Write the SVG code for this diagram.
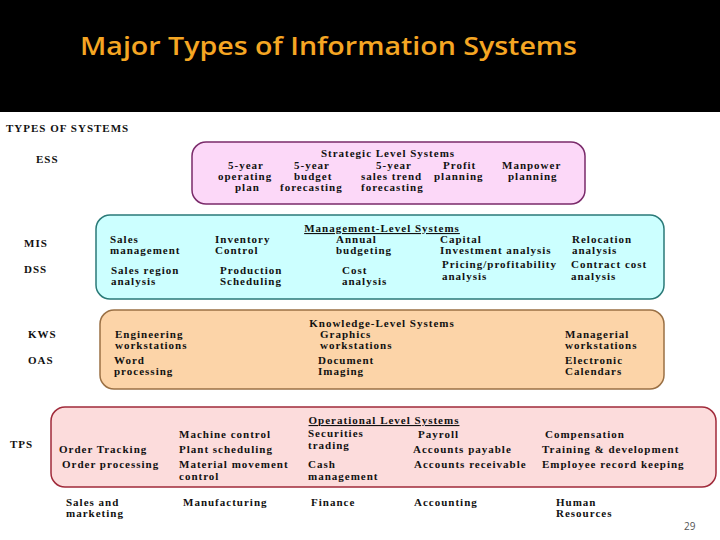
<svg xmlns="http://www.w3.org/2000/svg" width="720" height="540" viewBox="0 0 720 540">
<style>
.t{font-family:"Liberation Serif",serif;font-weight:bold;font-size:11px;fill:#111;letter-spacing:1px}
.h{font-family:"Liberation Serif",serif;font-weight:bold;font-size:11px;fill:#111;letter-spacing:1px;text-anchor:middle}
.u{text-decoration:underline}
</style>
<rect x="0" y="0" width="720" height="112" fill="#000"/>
<text x="80" y="55" font-family="'Open Sans',Lato,sans-serif" font-weight="600" font-size="26" fill="#f5a623" textLength="497" lengthAdjust="spacingAndGlyphs">Major Types of Information Systems</text>
<text x="6" y="132" class="t" font-size="10">TYPES OF SYSTEMS</text>
<g id="labels">
<text x="36" y="163" class="t">ESS</text>
<text x="24" y="247" class="t">MIS</text>
<text x="24" y="273" class="t">DSS</text>
<text x="28" y="338" class="t">KWS</text>
<text x="28" y="364" class="t">OAS</text>
<text x="10" y="448" class="t">TPS</text>
</g>
<g id="ess">
<rect x="192" y="142" width="393" height="62" rx="14" fill="#fcd8f8" stroke="#7a2a6a" stroke-width="1.5"/>
<text x="388" y="157" class="h">Strategic Level Systems</text>
<text x="228" y="169" class="t">5-year</text><text x="218" y="180" class="t">operating</text><text x="235" y="191" class="t">plan</text>
<text x="294" y="169" class="t">5-year</text><text x="294" y="180" class="t">budget</text><text x="280" y="191" class="t">forecasting</text>
<text x="376" y="169" class="t">5-year</text><text x="361" y="180" class="t">sales trend</text><text x="361" y="191" class="t">forecasting</text>
<text x="443" y="169" class="t">Profit</text><text x="434" y="180" class="t">planning</text>
<text x="502" y="169" class="t">Manpower</text><text x="508" y="180" class="t">planning</text>
</g>
<g id="mis">
<rect x="96" y="215" width="568" height="84" rx="14" fill="#ccffff" stroke="#2a7a78" stroke-width="1.5"/>
<text x="382" y="232" class="h u">Management-Level Systems</text>
<text x="110" y="243" class="t">Sales</text><text x="110" y="254" class="t">management</text>
<text x="215" y="243" class="t">Inventory</text><text x="215" y="254" class="t">Control</text>
<text x="336" y="243" class="t">Annual</text><text x="336" y="254" class="t">budgeting</text>
<text x="440" y="243" class="t">Capital</text><text x="440" y="254" class="t" letter-spacing="0.6">Investment analysis</text>
<text x="572" y="243" class="t">Relocation</text><text x="572" y="254" class="t">analysis</text>
<text x="111" y="274" class="t">Sales region</text><text x="111" y="285" class="t">analysis</text>
<text x="220" y="274" class="t">Production</text><text x="220" y="285" class="t">Scheduling</text>
<text x="342" y="274" class="t">Cost</text><text x="342" y="285" class="t">analysis</text>
<text x="442" y="268" class="t" letter-spacing="0.3">Pricing/profitability</text><text x="442" y="280" class="t">analysis</text>
<text x="571" y="268" class="t" letter-spacing="0.6">Contract cost</text><text x="571" y="280" class="t">analysis</text>
</g>
<g id="kws">
<rect x="100" y="310" width="564" height="79" rx="14" fill="#fcd4a8" stroke="#9a7044" stroke-width="1.5"/>
<text x="382" y="327" class="h">Knowledge-Level Systems</text>
<text x="115" y="338" class="t">Engineering</text><text x="115" y="349" class="t">workstations</text>
<text x="320" y="338" class="t">Graphics</text><text x="320" y="349" class="t">workstations</text>
<text x="565" y="338" class="t">Managerial</text><text x="565" y="349" class="t">workstations</text>
<text x="114" y="364" class="t">Word</text><text x="114" y="375" class="t">processing</text>
<text x="318" y="364" class="t">Document</text><text x="318" y="375" class="t">Imaging</text>
<text x="565" y="364" class="t">Electronic</text><text x="565" y="375" class="t">Calendars</text>
</g>
<g id="tps">
<rect x="51" y="407" width="665" height="80" rx="14" fill="#fcdcdc" stroke="#a02a3a" stroke-width="1.5"/>
<text x="384" y="424" class="h u">Operational Level Systems</text>
<text x="179" y="438" class="t">Machine control</text>
<text x="308" y="437" class="t">Securities</text><text x="308" y="449" class="t">trading</text>
<text x="418" y="438" class="t">Payroll</text>
<text x="545" y="438" class="t">Compensation</text>
<text x="59" y="453" class="t">Order Tracking</text>
<text x="179" y="453" class="t">Plant scheduling</text>
<text x="413" y="453" class="t">Accounts payable</text>
<text x="542" y="453" class="t">Training &amp; development</text>
<text x="62" y="468" class="t" letter-spacing="0.7">Order processing</text>
<text x="179" y="468" class="t" letter-spacing="0.5">Material movement</text><text x="179" y="480" class="t">control</text>
<text x="308" y="468" class="t">Cash</text><text x="308" y="480" class="t">management</text>
<text x="414" y="468" class="t" letter-spacing="0.7">Accounts receivable</text>
<text x="542" y="468" class="t" letter-spacing="0.8">Employee record keeping</text>
</g>
<g id="areas">
<text x="66" y="506" class="t">Sales and</text><text x="66" y="517" class="t">marketing</text>
<text x="183" y="506" class="t">Manufacturing</text>
<text x="311" y="506" class="t">Finance</text>
<text x="414" y="506" class="t">Accounting</text>
<text x="556" y="506" class="t">Human</text><text x="556" y="517" class="t">Resources</text>
</g>
<text x="684" y="530" font-family="'Open Sans',sans-serif" font-size="10" fill="#555">29</text>
<g id="connectors"/>
</svg>
